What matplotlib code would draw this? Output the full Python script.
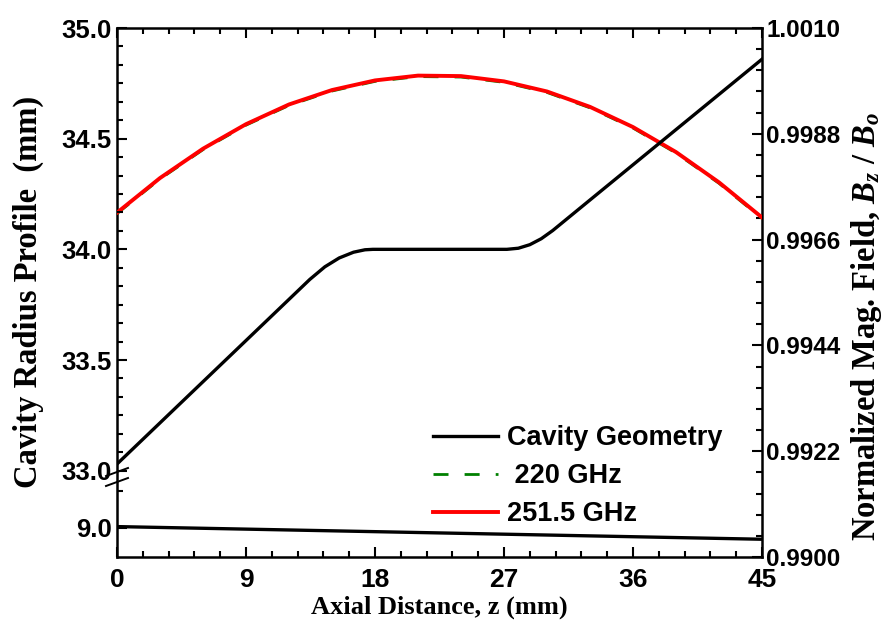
import matplotlib
matplotlib.use("Agg")
import matplotlib.pyplot as plt
from matplotlib.ticker import FixedLocator, MultipleLocator, FormatStrFormatter
from matplotlib.font_manager import FontProperties
from matplotlib.lines import Line2D

plt.rcParams['mathtext.fontset'] = 'custom'
plt.rcParams['mathtext.it'] = 'Liberation Serif:italic:bold'
plt.rcParams['mathtext.rm'] = 'Liberation Serif:bold'

# cavity radius profile (mm) vs axial distance (mm)
z_cav = [0, 3, 6, 9, 12, 13.45, 14.5, 15.5, 16.5, 17.3, 17.85, 20, 24, 27.2,
         28.0, 28.8, 29.6, 30.4, 33, 36, 39, 42, 45]
r_cav = [33.03, 33.216, 33.402, 33.588, 33.774, 33.864, 33.921, 33.961, 33.987,
         33.998, 34.0, 34.0, 34.0, 34.0, 34.005, 34.021, 34.048, 34.085, 34.223,
         34.382, 34.541, 34.700, 34.859]
# lower part of the geometry (broken axis segment)
z_low = [0, 45]
r_low = [9.006, 8.949]

# normalized field Bz/Bo
z_b = [0, 3, 6, 9, 12, 15, 18, 21, 24, 27, 30, 33, 36, 39, 42, 45]
b_220 = [0.99714, 0.99786, 0.99847, 0.99898, 0.99939, 0.99969, 0.99989, 0.99999,
         0.99998, 0.99987, 0.99966, 0.99934, 0.99892, 0.99840, 0.99777, 0.99704]
b_2515 = [0.99716, 0.99788, 0.99849, 0.99900, 0.99941, 0.99971, 0.99991, 1.00001,
          1.00000, 0.99989, 0.99968, 0.99936, 0.99894, 0.99842, 0.99779, 0.99706]

W, H = 889, 631
L, R, T, B = 117, 762, 28, 557
brk_top, brk_bot = 474, 478

def fx(px):
    return px / W

def fy(py):
    return 1 - py / H

left_tf = FontProperties(family='Liberation Sans', weight='bold', size=18.5)
right_tf = FontProperties(family='Liberation Sans', weight='bold', size=17.5)
x_tf = FontProperties(family='Liberation Sans', weight='bold', size=19)
labfont = {'family': 'Liberation Serif', 'weight': 'bold'}

fig = plt.figure(figsize=(8.89, 6.31), dpi=100)

# main axes: x axis + right axis (field)
ax = fig.add_axes([fx(L), fy(B), fx(R - L), (B - T) / H])
ax.plot(z_b, b_220, color='green', lw=2.0, dashes=(5.4, 5.8), label=' 220 GHz', zorder=3)
ax.plot(z_b, b_2515, color='red', lw=2.8, label='251.5 GHz', zorder=4)
ax.set_xlim(0, 45)
ax.set_ylim(0.9900, 1.0010)
ax.xaxis.set_major_locator(MultipleLocator(9))
ax.xaxis.set_minor_locator(MultipleLocator(1.8))
ax.yaxis.tick_right()
ax.yaxis.set_major_locator(FixedLocator([0.9900, 0.9922, 0.9944, 0.9966, 0.9988, 1.0010]))
ax.yaxis.set_minor_locator(MultipleLocator(0.00044))
ax.yaxis.set_major_formatter(FormatStrFormatter('%.4f'))
ax.tick_params(axis='x', which='both', direction='in', top=True, bottom=True, width=1.5)
ax.tick_params(axis='y', which='both', direction='in', left=False, right=True, width=1.5)
ax.tick_params(which='major', length=7)
ax.tick_params(which='minor', length=4)
ax.tick_params(axis='x', pad=8)
ax.tick_params(axis='y', pad=3)
for lab in ax.get_xticklabels():
    lab.set_fontproperties(x_tf)
for lab in ax.get_yticklabels():
    lab.set_fontproperties(right_tf)
for s in ax.spines.values():
    s.set_linewidth(1.8)

# upper left axis segment
axt = fig.add_axes([fx(L), fy(brk_top), fx(R - L), (brk_top - T) / H])
axt.plot(z_cav, r_cav, color='black', lw=2.4, label='Cavity Geometry', zorder=5)
axt.set_xlim(0, 45)
axt.set_ylim(32.985, 35.0)
axt.yaxis.set_major_locator(MultipleLocator(0.5))
axt.yaxis.set_minor_locator(MultipleLocator(0.5 / 6))
axt.yaxis.set_major_formatter(FormatStrFormatter('%.1f'))

# lower left axis segment
axb = fig.add_axes([fx(L), fy(B), fx(R - L), (B - brk_bot) / H])
axb.plot(z_low, r_low, color='black', lw=2.4, zorder=5)
axb.set_xlim(0, 45)
axb.set_ylim(8.869, 9.225)
axb.yaxis.set_major_locator(FixedLocator([9.0]))
axb.yaxis.set_minor_locator(FixedLocator([9.1667]))
axb.yaxis.set_major_formatter(FormatStrFormatter('%.1f'))

for a in (axt, axb):
    a.patch.set_visible(False)
    for s in a.spines.values():
        s.set_visible(False)
    a.set_xticks([])
    a.tick_params(axis='y', which='both', direction='in', width=1.5, pad=4)
    a.tick_params(which='major', length=7)
    a.tick_params(which='minor', length=4)
    for lab in a.get_yticklabels():
        lab.set_fontproperties(left_tf)

# break marks on the left spine
for y0 in (476, 486):
    fig.add_artist(Line2D([fx(106), fx(128)], [fy(y0), fy(y0 - 8)],
                          color='black', lw=1.4))

# labels
fig.text(fx((L + R) / 2), fy(607), 'Axial Distance, z (mm)', ha='center', va='center',
         size=19, **labfont)
fig.text(fx(28), fy(292), 'Cavity Radius Profile  (mm)', ha='center', va='center',
         rotation=90, size=23.5, **labfont)
fig.text(fx(867), fy(326), r'Normalized Mag. Field, $B_z$ / $B_o$', ha='center', va='center',
         rotation=90, size=23.5, **labfont)

handles = axt.get_lines()[:1] + ax.get_lines()[:2]
leg = fig.legend(handles, [h.get_label() for h in handles], loc='upper left',
                 bbox_to_anchor=(fx(433), fy(425)), bbox_transform=fig.transFigure,
                 frameon=False, borderpad=0, borderaxespad=0, handlelength=2.4,
                 handletextpad=0.35, labelspacing=0.45,
                 prop={'family': 'Liberation Sans', 'weight': 'bold', 'size': 19.5})

fig.savefig('out.png', dpi=100)
